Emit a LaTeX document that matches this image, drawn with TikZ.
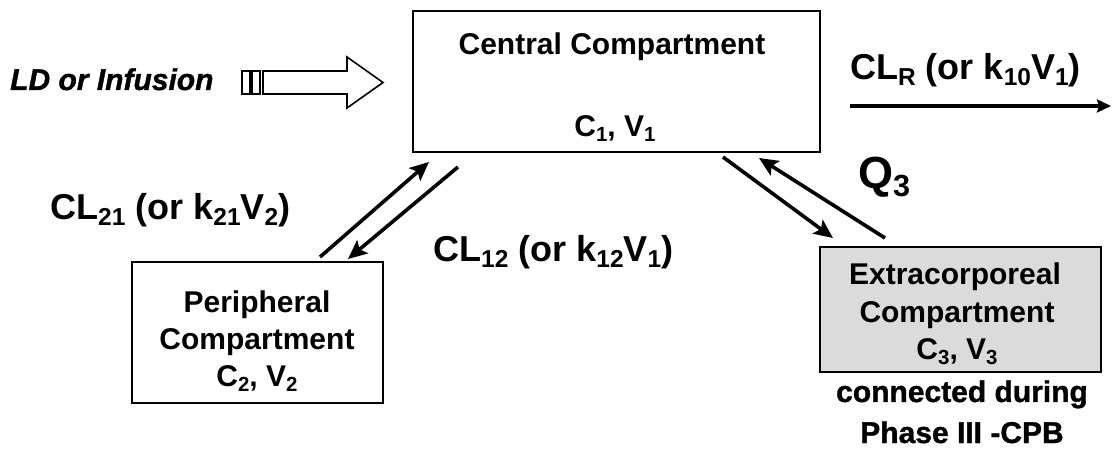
\documentclass[tikz,border=0pt]{standalone}
\usepackage{fontspec}
\usepackage{graphicx}
\setmainfont{Liberation Sans}
\newfontface\heavyfont{Liberation Sans Bold}[FakeBold=1.2]
\newfontface\heavyit{Liberation Sans Bold Italic}[FakeBold=1.2]
\usetikzlibrary{arrows.meta}
\newcommand\sbs[1]{\raisebox{-0.16em}{\scalebox{0.68}{#1}}}
\tikzset{
  box/.style={draw=black, line width=2.6pt, inner sep=0pt, fill=white},
  lbl/.style={inner sep=0pt, anchor=base west, font=\bfseries\fontsize{36}{40}\selectfont},
  intext/.style={inner sep=0pt, anchor=base, font=\bfseries\fontsize{30}{34}\selectfont},
  flow/.style={line width=3.6pt, -{Stealth[length=19pt,width=17pt,inset=4pt]}},
}
\begin{document}
\begin{tikzpicture}[x=1pt,y=-1pt]
\useasboundingbox (0,0) rectangle (1112,454);

% boxes
\node[box, minimum width=407pt, minimum height=141pt] (central) at (616.5,81.5) {};
\node[box, minimum width=251pt, minimum height=141pt] (periph) at (257.5,332.5) {};
\node[box, fill=black!14, minimum width=281pt, minimum height=125pt] (extra) at (960.5,309.5) {};

% box texts
\node[intext] (ct1) at (612,55) {Central Compartment};
\node[intext] (ct2) at (615,137) {C\sbs{1}, V\sbs{1}};
\node[intext] (pt1) at (257,313) {Peripheral};
\node[intext] (pt2) at (257,350) {Compartment};
\node[intext] (pt3) at (257,387) {C\sbs{2}, V\sbs{2}};
\node[intext] (et1) at (955,285) {Extracorporeal};
\node[intext] (et2) at (957,323) {Compartment};
\node[intext] (et3) at (957,360) {C\sbs{3}, V\sbs{3}};
\node[inner sep=0pt, anchor=base, font=\heavyfont\fontsize{30}{34}\selectfont] (note1) at (962,402) {connected during};
\node[inner sep=0pt, anchor=base, font=\heavyfont\fontsize{30}{34}\selectfont] (note2) at (962,443) {Phase III -CPB};

% input
\node[inner sep=0pt, anchor=base west, font=\heavyit\fontsize{30}{34}\selectfont] (ld) at (10,90) {LD or Infusion};
\draw[line width=1.6pt] (242,71) rectangle (250,94);
\draw[line width=1.6pt] (252,71) rectangle (260,94);
\draw[line width=1.6pt, line join=miter] (263,71) -- (347,71) -- (347,57) -- (383,82.5) -- (347,108) -- (347,94) -- (263,94) -- cycle;

% labels
\node[lbl] (clr) at (850,80) {CL\sbs{R} (or k\sbs{10}V\sbs{1})};
\node[lbl] (cl21) at (50,220) {CL\sbs{21} (or k\sbs{21}V\sbs{2})};
\node[lbl] (cl12) at (433,262) {CL\sbs{12} (or k\sbs{12}V\sbs{1})};
\node[inner sep=0pt, anchor=base west, font=\bfseries\fontsize{45}{50}\selectfont] (q3) at (858,189) {Q\sbs{3}};

% connector end points
\coordinate (a1s) at (320,257);
\coordinate (a1e) at (429,162);
\coordinate (a2s) at (458,167);
\coordinate (a2e) at (348,259);
\coordinate (b1s) at (723,157);
\coordinate (b1e) at (833,238);
\coordinate (b2s) at (885,238);
\coordinate (b2e) at (759,158);
\coordinate (outs) at (850,106);
\coordinate (oute) at (1111,106);

\draw[flow] (a1s) -- (a1e);
\draw[flow] (a2s) -- (a2e);
\draw[flow] (b1s) -- (b1e);
\draw[flow] (b2s) -- (b2e);
\draw[line width=4pt, -{Stealth[length=14pt,width=13pt,inset=2pt]}] (outs) -- (oute);
\end{tikzpicture}
\end{document}
